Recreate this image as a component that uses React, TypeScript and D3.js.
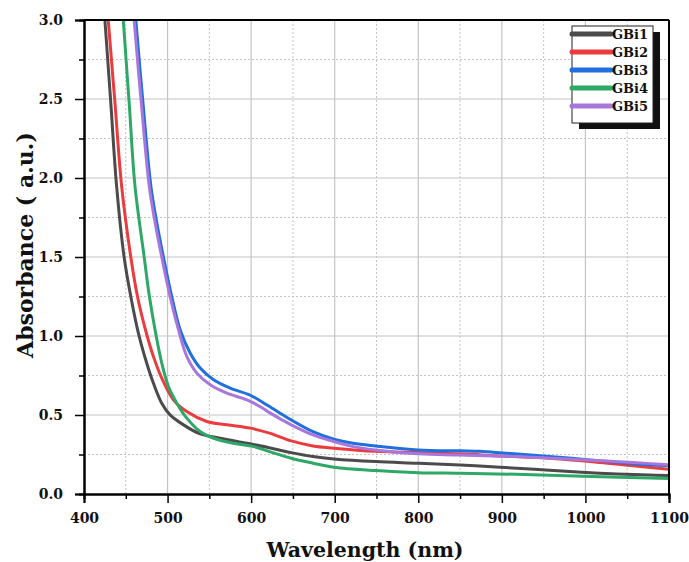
import React, { useRef, useEffect } from "react";
import * as d3 from "d3";

// wavelength (nm) / absorbance (a.u.) pairs
const gbi1 = [
  [420, 3.4], [425, 3.0], [432, 2.48], [439, 1.95], [448, 1.5], [456, 1.25], [465, 1.02],
  [475, 0.829], [483, 0.702], [493, 0.575], [503, 0.501], [519, 0.438], [539, 0.38],
  [563, 0.353], [595, 0.321], [619, 0.296], [648, 0.262], [674, 0.237], [699, 0.222],
  [749, 0.205], [800, 0.195], [850, 0.184], [898, 0.17], [957, 0.15], [1017, 0.132],
  [1077, 0.12], [1100, 0.117],
];
const gbi2 = [
  [424, 3.4], [429, 3.0], [437, 2.48], [445, 1.95], [456, 1.5], [464, 1.25], [474, 1.03],
  [483, 0.871], [493, 0.734], [507, 0.596], [523, 0.522], [547, 0.459], [571, 0.438],
  [599, 0.417], [622, 0.385], [648, 0.336], [674, 0.304], [699, 0.29], [749, 0.27],
  [800, 0.262], [850, 0.254], [900, 0.24], [957, 0.226], [1017, 0.2], [1057, 0.178],
  [1100, 0.157],
];
const gbi3 = [
  [457, 3.4], [462, 3.0], [470.5, 2.48], [480, 1.95], [487, 1.72], [495, 1.5], [505, 1.25],
  [515, 1.04], [527, 0.892], [539, 0.797], [555, 0.723], [575, 0.67], [599, 0.625],
  [620, 0.56], [648, 0.469], [674, 0.395], [699, 0.347], [722, 0.321], [749, 0.304],
  [800, 0.279], [850, 0.273], [874, 0.27], [901, 0.26], [957, 0.237], [1005, 0.216],
  [1057, 0.192], [1100, 0.18],
];
const gbi4 = [
  [443, 3.4], [447, 3.0], [454, 2.48], [461, 1.95], [472, 1.5], [478, 1.26], [485, 1.04],
  [493, 0.829], [501, 0.681], [511, 0.575], [523, 0.48], [539, 0.395], [555, 0.353],
  [579, 0.321], [603, 0.3], [622, 0.268], [648, 0.226], [674, 0.195], [699, 0.169],
  [749, 0.148], [800, 0.135], [850, 0.131], [917, 0.125], [997, 0.113], [1100, 0.098],
];
const gbi5 = [
  [455, 3.4], [460, 3.0], [468.5, 2.48], [478, 1.95], [485, 1.72], [493, 1.5], [503, 1.25],
  [513, 1.04], [523, 0.871], [535, 0.765], [551, 0.691], [571, 0.638], [595, 0.596],
  [614, 0.543], [622, 0.515], [648, 0.438], [674, 0.374], [699, 0.332], [722, 0.3],
  [749, 0.279], [800, 0.254], [850, 0.247], [917, 0.237], [997, 0.216], [1057, 0.199],
  [1100, 0.185],
];

const seriesNames = ["GBi1", "GBi2", "GBi3", "GBi4", "GBi5"];
const seriesData = [gbi1, gbi2, gbi3, gbi4, gbi5];
const colors = ["#4b4b4b", "#ec3b3e", "#1f6fdc", "#2ea866", "#a977dc"];

const xTicks = [400, 500, 600, 700, 800, 900, 1000, 1100];
const yTicks = [0, 0.5, 1.0, 1.5, 2.0, 2.5, 3.0];

const App = () => {
  const svgRef = useRef(null);

  useEffect(() => {
    const svg = d3.select(svgRef.current);
    svg.selectAll("*").remove();

    const width = 689;
    const height = 562;
    const margin = { top: 20, right: 20, bottom: 68, left: 84 };
    const font = "'DejaVu Serif', serif";

    const x = d3.scaleLinear().domain([400, 1100]).range([margin.left, width - margin.right]);
    const y = d3.scaleLinear().domain([0, 3]).range([height - margin.bottom, margin.top]);

    const x0 = margin.left, x1 = width - margin.right;
    const y0 = height - margin.bottom, y1 = margin.top;

    // grid: major solid, minor dashed
    const xMinor = d3.range(450, 1100, 100);
    const yMinor = d3.range(0.25, 3, 0.5);
    const grid = svg.append("g");
    grid.selectAll(".vmaj").data(xTicks.slice(1, -1)).join("line")
      .attr("x1", (d) => x(d)).attr("x2", (d) => x(d)).attr("y1", y0).attr("y2", y1)
      .attr("stroke", "#c4c4c4").attr("stroke-width", 1.2);
    grid.selectAll(".hmaj").data(yTicks.slice(1, -1)).join("line")
      .attr("y1", (d) => y(d)).attr("y2", (d) => y(d)).attr("x1", x0).attr("x2", x1)
      .attr("stroke", "#c4c4c4").attr("stroke-width", 1.2);
    grid.selectAll(".vmin").data(xMinor).join("line")
      .attr("x1", (d) => x(d)).attr("x2", (d) => x(d)).attr("y1", y0).attr("y2", y1)
      .attr("stroke", "#c4c4c4").attr("stroke-width", 1).attr("stroke-dasharray", "2,2");
    grid.selectAll(".hmin").data(yMinor).join("line")
      .attr("y1", (d) => y(d)).attr("y2", (d) => y(d)).attr("x1", x0).attr("x2", x1)
      .attr("stroke", "#c4c4c4").attr("stroke-width", 1).attr("stroke-dasharray", "2,2");

    // curves
    svg.append("clipPath").attr("id", "plotclip").append("rect")
      .attr("x", x0).attr("y", y1).attr("width", x1 - x0).attr("height", y0 - y1);

    const line = d3.line()
      .x((d) => x(d[0]))
      .y((d) => y(d[1]))
      .curve(d3.curveCatmullRom.alpha(0.5));

    const curves = svg.append("g").attr("clip-path", "url(#plotclip)");
    seriesData.forEach((s, i) => {
      curves.append("path")
        .datum(s)
        .attr("fill", "none")
        .attr("stroke", colors[i])
        .attr("stroke-width", 3)
        .attr("d", line);
    });

    // axes
    const xAxis = svg.append("g").attr("transform", `translate(0,${y0})`)
      .call(d3.axisBottom(x).tickValues(xTicks).tickSize(9).tickFormat(d3.format("d")));
    const yAxis = svg.append("g").attr("transform", `translate(${x0},0)`)
      .call(d3.axisLeft(y).tickValues(yTicks).tickSize(9).tickFormat(d3.format(".1f")));
    svg.append("g").attr("transform", `translate(0,${y0})`)
      .call(d3.axisBottom(x).tickValues(xMinor).tickSize(5).tickFormat(() => ""));
    svg.append("g").attr("transform", `translate(${x0},0)`)
      .call(d3.axisLeft(y).tickValues(yMinor).tickSize(5).tickFormat(() => ""));

    svg.selectAll(".domain").attr("stroke", "#000").attr("stroke-width", 2);
    svg.selectAll(".tick line").attr("stroke", "#000").attr("stroke-width", 1.5);
    [xAxis, yAxis].forEach((a) =>
      a.selectAll("text")
        .style("font-family", font)
        .style("font-weight", "bold")
        .style("font-size", "14px")
        .attr("fill", "#111")
    );
    xAxis.selectAll("text").attr("y", 9).attr("dy", "1.45em");
    yAxis.selectAll("text").attr("x", -21);

    // top and right frame
    svg.append("line").attr("x1", x0).attr("x2", x1).attr("y1", y1).attr("y2", y1)
      .attr("stroke", "#000").attr("stroke-width", 2);
    svg.append("line").attr("x1", x1).attr("x2", x1).attr("y1", y1).attr("y2", y0)
      .attr("stroke", "#000").attr("stroke-width", 2);

    // axis titles
    svg.append("text")
      .attr("x", 365)
      .attr("y", 557)
      .style("text-anchor", "middle")
      .style("font-family", font)
      .style("font-weight", "bold")
      .style("font-size", "20.5px")
      .attr("fill", "#111")
      .text("Wavelength (nm)");

    svg.append("text")
      .attr("transform", `translate(33,245) rotate(-90)`)
      .style("text-anchor", "middle")
      .style("font-family", font)
      .style("font-weight", "bold")
      .style("font-size", "22px")
      .attr("fill", "#111")
      .text("Absorbance ( a.u.)");

    // legend with drop shadow
    const lg = svg.append("g");
    lg.append("rect").attr("x", 579).attr("y", 32).attr("width", 81).attr("height", 97).attr("fill", "#111");
    lg.append("rect").attr("x", 572).attr("y", 26).attr("width", 81).attr("height", 97)
      .attr("fill", "#fff").attr("stroke", "#222").attr("stroke-width", 1);
    seriesNames.forEach((name, i) => {
      const ry = 34 + i * 18;
      lg.append("line").attr("x1", 572).attr("x2", 611).attr("y1", ry).attr("y2", ry)
        .attr("stroke", colors[i]).attr("stroke-width", 5).attr("stroke-linecap", "round");
      lg.append("text").attr("x", 612).attr("y", ry + 5)
        .style("font-family", font).style("font-weight", "bold").style("font-size", "13px")
        .attr("fill", "#111").text(name);
    });
  }, []);

  return (
    <svg ref={svgRef} width={689} height={562}
      style={{ position: "absolute", left: 0, top: 0, background: "#fff" }}></svg>
  );
};

export default App;
